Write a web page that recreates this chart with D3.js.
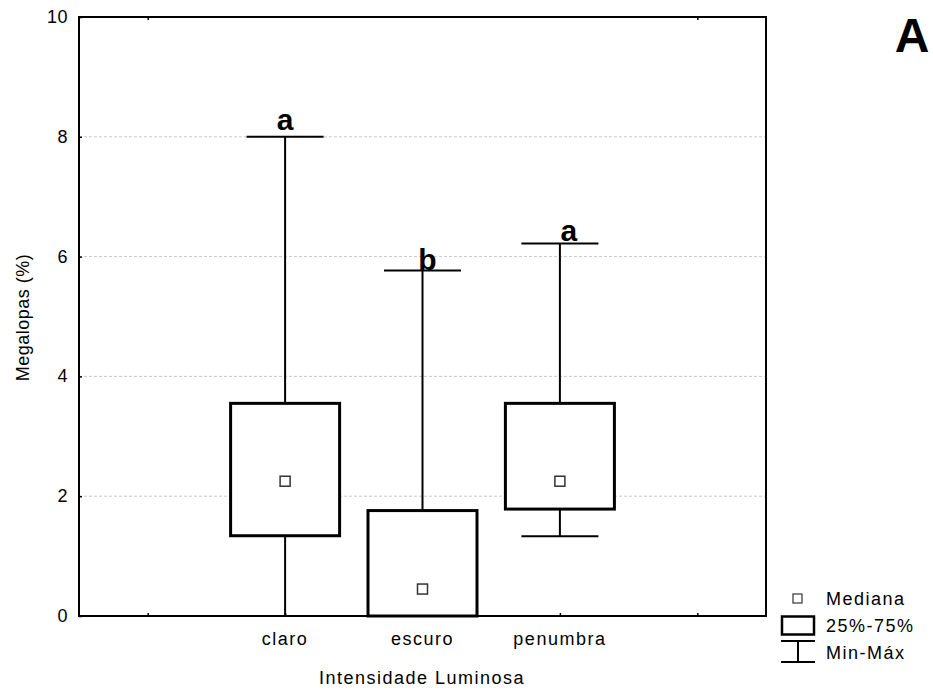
<!DOCTYPE html>
<html>
<head>
<meta charset="utf-8">
<script src="https://cdn.jsdelivr.net/npm/d3@7"></script>
<style>
    body { margin: 0; background: #fff; }
    svg { display: block; }
    text { font-family: Arial, "Liberation Sans", sans-serif; fill: #000; }
    .lbl { font-size: 18px; letter-spacing: 1.5px; }
    .grp { font-size: 30px; font-weight: bold; }
</style>
</head>
<body>
<svg></svg>
<script>
const categories = ['claro', 'escuro', 'penumbra'];
const minVals = [0, 0, 1.33];
const q1Vals = [1.34, 0, 1.785];
const medianVals = [2.25, 0.45, 2.25];
const q3Vals = [3.55, 1.76, 3.55];
const maxVals = [8.0, 5.77, 6.22];
const groupLetters = ['a', 'b', 'a'];
const yTicks = [0, 2, 4, 6, 8, 10];
const gridTicks = [2, 4, 6, 8];

const WIDTH = 933;
const HEIGHT = 693;
const PLOT = { left: 79, right: 766, top: 17, bottom: 616 };

// letter placement tweaks (px) to sit like the original
const letterDx = [0, 5, 9];
const letterDy = [-7, 0, -2];

const data = categories.map((c, i) => ({
    cat: c, min: minVals[i], q1: q1Vals[i], med: medianVals[i],
    q3: q3Vals[i], max: maxVals[i], letter: groupLetters[i], i: i
}));

const x = d3.scalePoint()
    .domain(['_l', ...categories, '_r'])
    .range([PLOT.left, PLOT.right])
    .padding(0.5);
const y = d3.scaleLinear().domain([0, 10]).range([PLOT.bottom, PLOT.top]);

const svg = d3.select('svg').attr('width', WIDTH).attr('height', HEIGHT);

// grid
svg.append('g')
    .selectAll('line')
    .data(gridTicks)
    .enter()
    .append('line')
    .attr('x1', PLOT.left).attr('x2', PLOT.right)
    .attr('y1', d => y(d)).attr('y2', d => y(d))
    .attr('stroke', '#c8c8c8')
    .attr('stroke-width', 1)
    .attr('stroke-dasharray', '3,2');

// y axis labels + inner ticks
const yAxis = svg.append('g')
    .attr('transform', `translate(${PLOT.left},0)`)
    .call(d3.axisRight(y).tickValues(yTicks).tickSize(3).tickFormat(''));
yAxis.select('.domain').remove();
yAxis.selectAll('line').attr('stroke', '#000').attr('stroke-width', 1.5);
svg.append('g')
    .selectAll('text')
    .data(yTicks)
    .enter()
    .append('text')
    .classed('lbl', true)
    .attr('x', PLOT.left - 11)
    .attr('y', d => y(d) + 6)
    .attr('text-anchor', 'end')
    .style('letter-spacing', '0.5px')
    .text(d => d);

// bottom axis
const xAxis = svg.append('g')
    .attr('transform', `translate(0,${PLOT.bottom})`)
    .call(d3.axisTop(x).tickSize(3).tickFormat(''));
xAxis.select('.domain').remove();
xAxis.selectAll('line').attr('stroke', '#000').attr('stroke-width', 1.5);

// top ticks only at outer positions
svg.append('g')
    .attr('transform', `translate(0,${PLOT.top})`)
    .call(d3.axisBottom(x).tickValues(['_l', '_r']).tickSize(3).tickFormat(''))
    .call(g => g.select('.domain').remove())
    .selectAll('line').attr('stroke', '#000').attr('stroke-width', 1.5);

svg.append('g')
    .selectAll('text')
    .data(categories)
    .enter()
    .append('text')
    .classed('lbl', true)
    .attr('x', d => x(d))
    .attr('y', PLOT.bottom + 29)
    .attr('text-anchor', 'middle')
    .text(d => d);

// boxes
const CAP_W = 77;
const BOX_W = 109;
const boxes = svg.append('g').selectAll('.box').data(data).enter().append('g').classed('box', true);

boxes.append('line')
    .attr('x1', d => x(d.cat)).attr('x2', d => x(d.cat))
    .attr('y1', d => y(d.max)).attr('y2', d => y(d.q3))
    .attr('stroke', '#000').attr('stroke-width', 2);
boxes.append('line')
    .attr('x1', d => x(d.cat)).attr('x2', d => x(d.cat))
    .attr('y1', d => y(d.q1)).attr('y2', d => y(d.min))
    .attr('stroke', '#000').attr('stroke-width', 2);
boxes.append('line')
    .attr('x1', d => x(d.cat) - CAP_W / 2).attr('x2', d => x(d.cat) + CAP_W / 2)
    .attr('y1', d => y(d.max)).attr('y2', d => y(d.max))
    .attr('stroke', '#000').attr('stroke-width', 2);
boxes.append('line')
    .attr('x1', d => x(d.cat) - CAP_W / 2).attr('x2', d => x(d.cat) + CAP_W / 2)
    .attr('y1', d => y(d.min)).attr('y2', d => y(d.min))
    .attr('stroke', d => d.min === 0 ? '#888' : '#000').attr('stroke-width', 2);
boxes.append('rect')
    .attr('x', d => x(d.cat) - BOX_W / 2)
    .attr('width', BOX_W)
    .attr('y', d => y(d.q3))
    .attr('height', d => y(d.q1) - y(d.q3))
    .attr('fill', '#fff')
    .attr('stroke', '#000').attr('stroke-width', 3);
boxes.append('rect')
    .attr('x', d => x(d.cat) - 5)
    .attr('y', d => y(d.med) - 5)
    .attr('width', 10).attr('height', 10)
    .attr('fill', '#fff')
    .attr('stroke', '#333').attr('stroke-width', 1.5);
boxes.append('text')
    .classed('grp', true)
    .attr('x', d => x(d.cat) + letterDx[d.i])
    .attr('y', d => y(d.max) + letterDy[d.i])
    .attr('text-anchor', 'middle')
    .text(d => d.letter);

// frame
svg.append('rect')
    .attr('x', PLOT.left).attr('y', PLOT.top)
    .attr('width', PLOT.right - PLOT.left)
    .attr('height', PLOT.bottom - PLOT.top)
    .attr('fill', 'none')
    .attr('stroke', '#000').attr('stroke-width', 2);

// axis titles
svg.append('text')
    .classed('lbl', true)
    .attr('transform', `translate(29,${(PLOT.top + PLOT.bottom) / 2 + 1}) rotate(-90)`)
    .attr('text-anchor', 'middle')
    .style('font-size', '18px')
    .style('letter-spacing', '0.5px')
    .text('Megalopas (%)');
svg.append('text')
    .classed('lbl', true)
    .attr('x', 422)
    .attr('y', 684)
    .attr('text-anchor', 'middle')
    .text('Intensidade Luminosa');

// panel letter
svg.append('text')
    .attr('x', 912).attr('y', 52)
    .attr('text-anchor', 'middle')
    .style('font-size', '48px').style('font-weight', 'bold')
    .text('A');

// legend
const leg = svg.append('g');
leg.append('rect')
    .attr('x', 793).attr('y', 594).attr('width', 9).attr('height', 9)
    .attr('fill', '#fff').attr('stroke', '#333').attr('stroke-width', 1.2);
leg.append('text').classed('lbl', true).attr('x', 826).attr('y', 605).text('Mediana');
leg.append('rect')
    .attr('x', 782).attr('y', 616.5).attr('width', 32).attr('height', 18)
    .attr('fill', '#fff').attr('stroke', '#000').attr('stroke-width', 2.5);
leg.append('text').classed('lbl', true).attr('x', 826).attr('y', 632).text('25%-75%');
leg.append('line').attr('x1', 781).attr('x2', 815).attr('y1', 641).attr('y2', 641)
    .attr('stroke', '#000').attr('stroke-width', 2);
leg.append('line').attr('x1', 781).attr('x2', 815).attr('y1', 662).attr('y2', 662)
    .attr('stroke', '#000').attr('stroke-width', 2);
leg.append('line').attr('x1', 798).attr('x2', 798).attr('y1', 641).attr('y2', 662)
    .attr('stroke', '#000').attr('stroke-width', 2);
leg.append('text').classed('lbl', true).attr('x', 826).attr('y', 659).text('Min-Máx');
</script>
</body>
</html>
